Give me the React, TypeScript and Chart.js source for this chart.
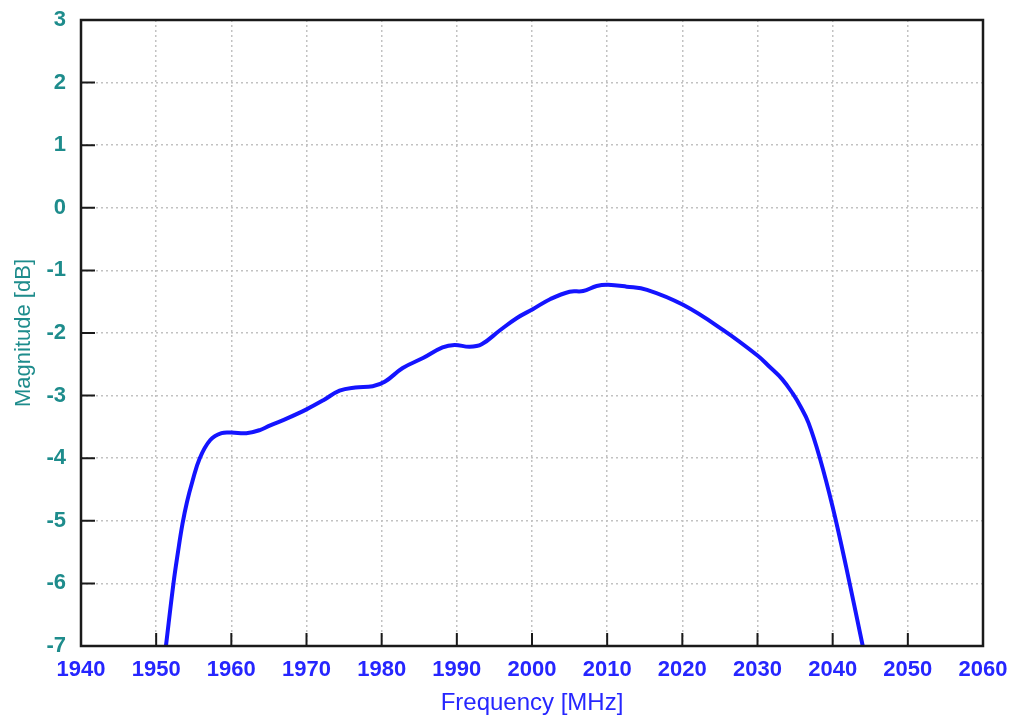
import React, { useEffect, useRef } from "react";
import { Chart, registerables } from "chart.js";

Chart.register(...registerables);

const frequencyMHz = [
  1951.3, 1952.3, 1952.9, 1953.5, 1954.1, 1954.8, 1955.8, 1957.2, 1958.7, 1960.0, 1962.0, 1963.8,
  1965.1, 1967.5, 1970.0, 1972.3, 1974.4, 1976.5, 1978.8, 1980.4, 1982.8, 1985.5,
  1988.1, 1989.7, 1991.7, 1993.3, 1995.7, 1998.0, 2000.1, 2002.4, 2005.0, 2006.8,
  2008.6, 2010.1, 2012.6, 2015.3, 2020.1, 2025.4, 2030.0, 2031.6, 2033.3, 2034.7,
  2035.7, 2036.8, 2038.3, 2040.0, 2041.8, 2044.0,
];
const magnitudeDb = [
  -7.0, -6.0, -5.5, -5.05, -4.7, -4.38, -4.0, -3.71, -3.6, -3.59, -3.6, -3.55,
  -3.48, -3.36, -3.22, -3.07, -2.92, -2.87, -2.85, -2.78, -2.56, -2.4,
  -2.23, -2.19, -2.22, -2.18, -1.96, -1.76, -1.62, -1.46, -1.34, -1.33,
  -1.25, -1.23, -1.26, -1.31, -1.55, -1.95, -2.36, -2.54, -2.74, -2.97,
  -3.17, -3.44, -4.0, -4.78, -5.74, -7.0,
];
const xTicks = [1940, 1950, 1960, 1970, 1980, 1990, 2000, 2010, 2020, 2030, 2040, 2050, 2060];
const yTicks = [3, 2, 1, 0, -1, -2, -3, -4, -5, -6, -7];

const TEAL = "#1e8c8c";
const BLUE = "#2626ff";
const FONT = "'Liberation Sans', Arial, sans-serif";

const framePlugin = {
  id: "frame",
  afterDraw(chart: any) {
    const { ctx, chartArea, scales } = chart;
    const { left, right, top, bottom } = chartArea;
    ctx.save();
    ctx.strokeStyle = "#1a1a1a";
    ctx.lineWidth = 2;
    ctx.beginPath();
    xTicks.forEach((v) => {
      const px = scales.x.getPixelForValue(v);
      if (px > left + 2 && px < right - 2) {
        ctx.moveTo(px, bottom);
        ctx.lineTo(px, bottom - 13);
      }
    });
    yTicks.forEach((v) => {
      const py = scales.y.getPixelForValue(v);
      if (py > top + 2 && py < bottom - 2) {
        ctx.moveTo(left, py);
        ctx.lineTo(left + 14, py);
      }
    });
    ctx.stroke();
    ctx.lineWidth = 2.5;
    ctx.strokeRect(left, top, right - left, bottom - top);
    ctx.restore();
  },
};

export default function App() {
  const ref = useRef<HTMLCanvasElement>(null);
  useEffect(() => {
    document.body.style.margin = "0";
    const chart = new Chart(ref.current!, {
      type: "line",
      data: {
        datasets: [
          {
            data: frequencyMHz.map((f, i) => ({ x: f, y: magnitudeDb[i] })),
            borderColor: "#1414ff",
            borderWidth: 4,
            pointRadius: 0,
            tension: 0.4,
            fill: false,
          },
        ],
      },
      options: {
        animation: false,
        responsive: false,
        events: [],
        layout: { padding: { top: 20, right: 33, left: 0, bottom: 0 } },
        plugins: { legend: { display: false }, tooltip: { enabled: false }, title: { display: false } },
        scales: {
          x: {
            type: "linear",
            min: 1940,
            max: 2060,
            afterBuildTicks: (s: any) => {
              s.ticks = xTicks.map((v) => ({ value: v }));
            },
            afterFit: (s: any) => {
              s.height = 76;
              s.paddingLeft = 0;
              s.paddingRight = 0;
            },
            border: { display: false, dash: [2, 3] },
            grid: {
              color: "#c2c2c2",
              lineWidth: 1.5,
              drawTicks: false,
            },
            ticks: {
              color: BLUE,
              padding: 11,
              font: { family: FONT, size: 22, weight: "bold" },
              maxRotation: 0,
              autoSkip: false,
              callback: (v: any) => String(v),
            },
            title: {
              display: true,
              text: "Frequency [MHz]",
              color: BLUE,
              font: { family: FONT, size: 24 },
              padding: { top: 0, bottom: 4 },
            },
          },
          y: {
            type: "linear",
            min: -7,
            max: 3,
            afterBuildTicks: (s: any) => {
              s.ticks = yTicks.map((v) => ({ value: v }));
            },
            afterFit: (s: any) => {
              s.width = 81;
              s.paddingTop = 0;
              s.paddingBottom = 0;
            },
            border: { display: false, dash: [2, 3] },
            grid: {
              color: "#c2c2c2",
              lineWidth: 1.5,
              drawTicks: false,
            },
            ticks: {
              color: TEAL,
              padding: 15,
              font: { family: FONT, size: 22, weight: "bold" },
              autoSkip: false,
              callback: (v: any) => String(v),
            },
            title: {
              display: true,
              text: "Magnitude [dB]",
              color: TEAL,
              font: { family: FONT, size: 22 },
              padding: { top: 11, bottom: 0 },
            },
          },
        },
      },
      plugins: [framePlugin],
    } as any);
    return () => chart.destroy();
  }, []);
  return (
    <div style={{ position: "absolute", left: 0, top: 0, width: 1016, height: 722, background: "#fff" }}>
      <canvas ref={ref} width={1016} height={722} style={{ width: 1016, height: 722 }} />
    </div>
  );
}
